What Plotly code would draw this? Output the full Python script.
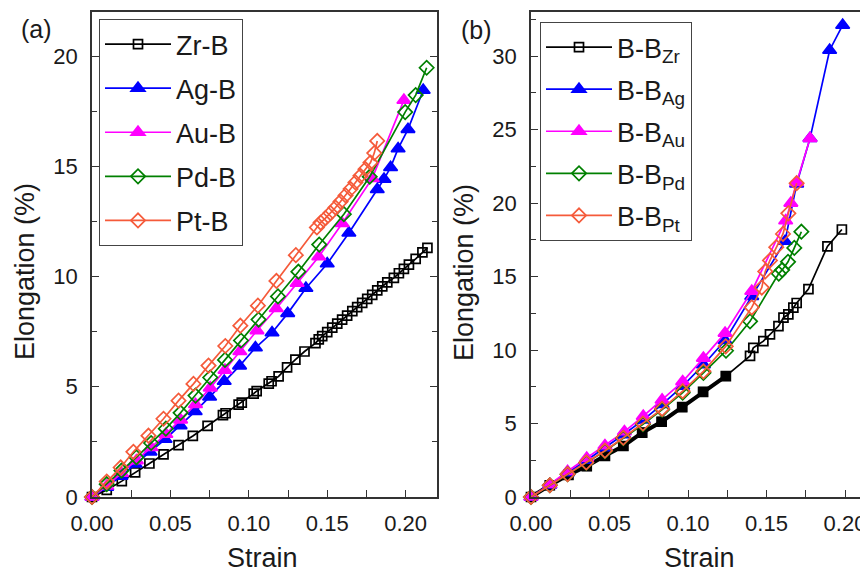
import plotly.graph_objects as go

# ---------------- Panel (a) data ----------------
zr_a_x = [0, 0.0094, 0.019, 0.0275, 0.0366, 0.0456, 0.0552, 0.0643, 0.0737, 0.0835, 0.0852, 0.0935,
          0.0955, 0.1031, 0.1050, 0.1127, 0.1145, 0.1190, 0.1244, 0.1297, 0.1355, 0.1425, 0.1446,
          0.1468, 0.1500, 0.1532, 0.1564, 0.1595, 0.1627, 0.1660, 0.1691, 0.1723, 0.1755, 0.1787,
          0.1819, 0.1851, 0.1883, 0.1925, 0.1957, 0.1989, 0.2021, 0.2064, 0.2107, 0.2139]
zr_a_y = [0, 0.32, 0.72, 1.12, 1.52, 1.93, 2.35, 2.77, 3.23, 3.71, 3.80, 4.19, 4.28, 4.69, 4.80,
          5.14, 5.25, 5.47, 5.88, 6.23, 6.60, 6.98, 7.15, 7.30, 7.48, 7.68, 7.86, 8.05, 8.23, 8.43,
          8.61, 8.81, 8.99, 9.17, 9.37, 9.55, 9.74, 9.94, 10.15, 10.35, 10.54, 10.80, 11.10, 11.30]

ag_a_x = [0, 0.0094, 0.0185, 0.0275, 0.0370, 0.0466, 0.0562, 0.0658, 0.0750, 0.0843, 0.0941, 0.1042,
          0.1148, 0.1248, 0.1364, 0.1500, 0.1638, 0.1819, 0.1862, 0.1904, 0.1952, 0.2015, 0.2112]
ag_a_y = [0, 0.45, 0.95, 1.50, 2.05, 2.62, 3.24, 3.88, 4.54, 5.25, 5.95, 6.77, 7.45, 8.33, 9.47,
          10.58, 11.98, 13.95, 14.42, 14.95, 15.80, 16.68, 18.45]

au_a_x = [0, 0.0094, 0.0188, 0.0283, 0.0377, 0.0471, 0.0565, 0.0660, 0.0754, 0.0848, 0.0943, 0.1052,
          0.1175, 0.1308, 0.1446, 0.1595, 0.1787, 0.1989]
au_a_y = [0, 0.50, 1.08, 1.65, 2.25, 2.85, 3.50, 4.20, 4.95, 5.75, 6.60, 7.55, 8.55, 9.70, 10.90,
          12.41, 14.45, 18.00]

pd_a_x = [0, 0.0094, 0.0188, 0.0283, 0.0377, 0.0471, 0.0565, 0.0660, 0.0754, 0.0848, 0.0950, 0.1062,
          0.1186, 0.1316, 0.1449, 0.1606, 0.1771, 0.1997, 0.2064, 0.2134]
pd_a_y = [0, 0.58, 1.20, 1.80, 2.45, 3.10, 3.82, 4.60, 5.42, 6.22, 7.10, 8.05, 9.10, 10.22, 11.45,
          12.83, 14.53, 17.46, 18.23, 19.47]

pt_a_x = [0, 0.0094, 0.0183, 0.0264, 0.0360, 0.0456, 0.0552, 0.0647, 0.0743, 0.0850, 0.0946, 0.1058,
          0.1176, 0.1300, 0.1434, 0.1458, 0.1489, 0.1521, 0.1553, 0.1585, 0.1617, 0.1649, 0.1680,
          0.1712, 0.1744, 0.1776, 0.1800, 0.1819]
pt_a_y = [0, 0.70, 1.34, 2.05, 2.78, 3.55, 4.37, 5.13, 5.96, 6.85, 7.77, 8.68, 9.80, 10.97, 12.23,
          12.45, 12.65, 12.88, 13.13, 13.40, 13.68, 13.97, 14.27, 14.57, 14.87, 15.17, 15.60, 16.15]

# ---------------- Panel (b) data ----------------
zr_b_x = [0, 0.0120, 0.0238, 0.0355, 0.0471, 0.0588, 0.0708, 0.0832, 0.0963, 0.1096, 0.1241, 0.1395,
          0.1416, 0.1480, 0.1522, 0.1576, 0.1608, 0.1639, 0.1671, 0.1692, 0.1767, 0.1888, 0.1980]
zr_b_y = [0, 0.80, 1.50, 2.10, 2.80, 3.47, 4.38, 5.12, 6.12, 7.15, 8.23, 9.60, 10.15, 10.60, 11.07,
          11.63, 12.20, 12.43, 12.88, 13.20, 14.15, 17.05, 18.20]
zr_b_dense = 11  # number of leading points drawn as the heavy filled band

ag_b_x = [0, 0.0120, 0.0233, 0.0355, 0.0471, 0.0590, 0.0715, 0.0835, 0.0966, 0.1098, 0.1236, 0.1406,
          0.1618, 0.1692, 0.1777, 0.1902, 0.1985]
ag_b_y = [0, 0.82, 1.65, 2.50, 3.35, 4.25, 5.25, 6.30, 7.55, 9.00, 10.65, 13.65, 17.40, 21.30, 24.40,
          30.40, 32.10]

au_b_x = [0, 0.0120, 0.0233, 0.0355, 0.0471, 0.0595, 0.0715, 0.0835, 0.0966, 0.1098, 0.1236, 0.1406,
          0.1622, 0.1655, 0.1692, 0.1777]
au_b_y = [0, 0.85, 1.75, 2.65, 3.50, 4.45, 5.50, 6.60, 7.85, 9.45, 11.15, 14.00, 18.80, 20.00, 21.40,
          24.40]

pd_b_x = [0, 0.0120, 0.0233, 0.0352, 0.0471, 0.0588, 0.0713, 0.0835, 0.0966, 0.1098, 0.1242, 0.1395,
          0.1578, 0.1600, 0.1637, 0.1677, 0.1722]
pd_b_y = [0, 0.80, 1.55, 2.33, 3.12, 4.00, 4.95, 5.95, 7.10, 8.45, 9.95, 11.95, 15.20, 15.45, 16.00,
          16.95, 18.05]

pt_b_x = [0, 0.0120, 0.0233, 0.0352, 0.0471, 0.0588, 0.0713, 0.0835, 0.0966, 0.1098, 0.1240, 0.1406,
          0.1470, 0.1492, 0.1522, 0.1562, 0.1605, 0.1639, 0.1692]
pt_b_y = [0, 0.80, 1.55, 2.35, 3.15, 4.03, 5.00, 6.00, 7.20, 8.55, 10.25, 12.90, 14.25, 15.35, 16.10,
          17.00, 17.90, 19.30, 21.35]

names_a = ["Zr-B", "Ag-B", "Au-B", "Pd-B", "Pt-B"]
names_b = ["B-B<sub>Zr</sub>", "B-B<sub>Ag</sub>", "B-B<sub>Au</sub>", "B-B<sub>Pd</sub>", "B-B<sub>Pt</sub>"]
colors = ["#000000", "#0000FF", "#FF00FF", "#008000", "#F55A3A"]
symbols = ["square-open", "triangle-up", "triangle-up", "diamond-open", "diamond-open"]
msizes = [9, 12, 12, 11, 11]

FONT = "Arial, Liberation Sans, sans-serif"
# The page body has an 8px margin, so the figure is drawn 8px in from the window edge.
OFF = 8
W, H = 868 - OFF, 572 - OFF


def px(x):
    return (x - OFF) / W


def py(y):
    return 1 - (y - OFF) / H


fig = go.Figure()

series_a = [(zr_a_x, zr_a_y), (ag_a_x, ag_a_y), (au_a_x, au_a_y), (pd_a_x, pd_a_y), (pt_a_x, pt_a_y)]
series_b = [(zr_b_x, zr_b_y), (ag_b_x, ag_b_y), (au_b_x, au_b_y), (pd_b_x, pd_b_y), (pt_b_x, pt_b_y)]

for i, (xs, ys) in enumerate(series_a):
    fig.add_trace(go.Scatter(
        x=xs, y=ys, name=names_a[i], mode="lines+markers",
        line=dict(color=colors[i], width=1.7),
        marker=dict(symbol=symbols[i], size=msizes[i], color=colors[i],
                    line=dict(color=colors[i], width=1.7)),
        xaxis="x", yaxis="y", legend="legend", legendgroup="a%d" % i,
        cliponaxis=False))

for i, (xs, ys) in enumerate(series_b):
    fig.add_trace(go.Scatter(
        x=xs, y=ys, name=names_b[i], mode="lines+markers",
        line=dict(color=colors[i], width=1.7),
        marker=dict(symbol=symbols[i], size=msizes[i], color=colors[i],
                    line=dict(color=colors[i], width=1.7)),
        xaxis="x2", yaxis="y2", legend="legend2", legendgroup="b%d" % i,
        cliponaxis=False))
    if i == 0:
        fig.add_trace(go.Scatter(
            x=xs[:zr_b_dense], y=ys[:zr_b_dense], mode="lines+markers", showlegend=False,
            line=dict(color=colors[0], width=4),
            marker=dict(symbol="square", size=10, color=colors[0]),
            xaxis="x2", yaxis="y2", cliponaxis=False, hoverinfo="skip"))

axis_common = dict(
    showline=True, linecolor="#333333", linewidth=1.5, mirror=True,
    ticks="inside", ticklen=7, tickwidth=1.3, tickcolor="#333333",
    showgrid=False, zeroline=False, automargin=False,
    tickfont=dict(family=FONT, size=22, color="#1a1a1a"),
)

ybot = py(497)
ytop = py(12)

fig.update_layout(
    width=W, height=H, margin=dict(l=0, r=0, t=0, b=0, autoexpand=False),
    paper_bgcolor="white", plot_bgcolor="white",
    font=dict(family=FONT, color="#1a1a1a"),
    xaxis=dict(domain=[px(92), px(437)], range=[0, 0.22], dtick=0.05, tickformat=".2f",
               anchor="y", ticklabelstandoff=6,
               minor=dict(dtick=0.025, ticks="inside", ticklen=7, tickcolor="#333333"),
               **axis_common),
    yaxis=dict(domain=[ybot, ytop], range=[0, 22], dtick=5, anchor="x",
               ticklabelstandoff=8,
               minor=dict(dtick=2.5, ticks="inside", ticklen=5, tickcolor="#333333"),
               **{**axis_common, "mirror": "ticks"}),
    xaxis2=dict(domain=[px(531), min(1.0, px(867))], range=[0, 0.214], dtick=0.05, tickformat=".2f",
                anchor="y2", ticklabelstandoff=6,
                minor=dict(dtick=0.025, ticks="inside", ticklen=7, tickcolor="#333333"),
                **axis_common),
    yaxis2=dict(domain=[ybot, ytop], range=[0, 33], dtick=5, anchor="x2",
                ticklabelstandoff=8,
                minor=dict(dtick=2.5, ticks="inside", ticklen=5, tickcolor="#333333"),
                **{**axis_common, "mirror": "ticks"}),
    legend=dict(x=px(99), y=py(19), xanchor="left", yanchor="top",
                bgcolor="white", bordercolor="#444444", borderwidth=1,
                font=dict(family=FONT, size=27, color="#1a1a1a"),
                tracegroupgap=6, traceorder="grouped", itemwidth=66),
    legend2=dict(x=px(540), y=py(22), xanchor="left", yanchor="top",
                 bgcolor="white", bordercolor="#444444", borderwidth=1,
                 font=dict(family=FONT, size=27, color="#1a1a1a"),
                 tracegroupgap=4, traceorder="grouped", itemwidth=66),
    showlegend=True,
)

ann_font = dict(family=FONT, size=27, color="#1a1a1a")
fig.add_annotation(text="Strain", x=px(262), y=py(558), xref="paper", yref="paper",
                   showarrow=False, font=ann_font, xanchor="center", yanchor="middle")
fig.add_annotation(text="Strain", x=px(699), y=py(558), xref="paper", yref="paper",
                   showarrow=False, font=ann_font, xanchor="center", yanchor="middle")
fig.add_annotation(text="Elongation (%)", x=px(25), y=py(272), xref="paper", yref="paper",
                   showarrow=False, font=ann_font, textangle=-90, xanchor="center", yanchor="middle")
fig.add_annotation(text="Elongation (%)", x=px(464), y=py(272), xref="paper", yref="paper",
                   showarrow=False, font=ann_font, textangle=-90, xanchor="center", yanchor="middle")
fig.add_annotation(text="(a)", x=px(19), y=py(29), xref="paper", yref="paper",
                   showarrow=False, font=dict(family=FONT, size=25, color="#1a1a1a"),
                   xanchor="left", yanchor="middle")
fig.add_annotation(text="(b)", x=px(459), y=py(30), xref="paper", yref="paper",
                   showarrow=False, font=dict(family=FONT, size=25, color="#1a1a1a"),
                   xanchor="left", yanchor="middle")

fig.write_html("out.html")
